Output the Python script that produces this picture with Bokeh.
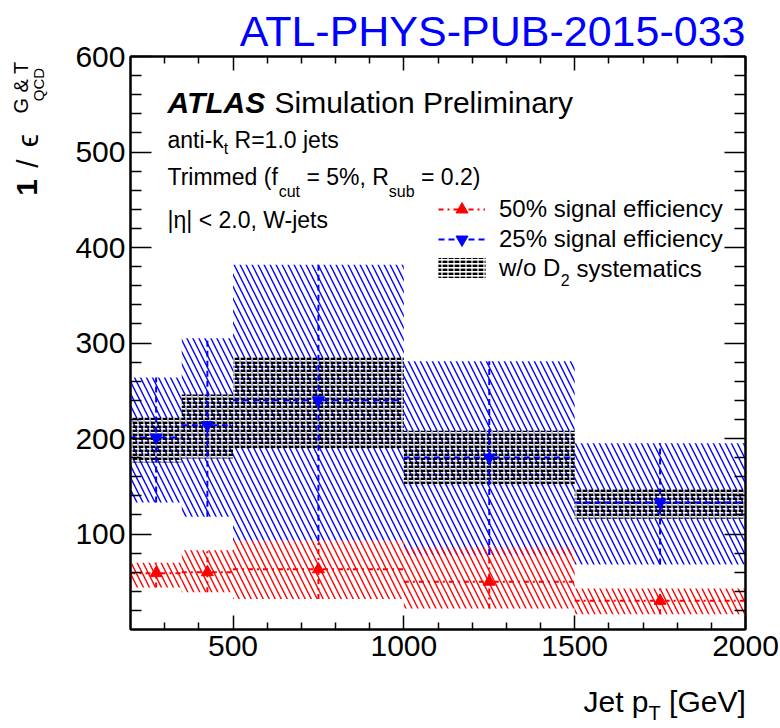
import math
from bokeh.plotting import figure
from bokeh.layouts import column, row
from bokeh.models import (Range1d, FixedTicker, LinearAxis, Label, Legend,
                          LegendItem, CustomJSTickFormatter, Title)
from bokeh.core.properties import value
from bokeh.embed import file_html
from bokeh.resources import INLINE

# ---------------- data ----------------
bin_lo = [200, 350, 500, 1000, 1500]
bin_hi = [350, 500, 1000, 1500, 2000]
bin_mid = [275, 425, 750, 1250, 1750]

eff50_val = [59, 60, 63, 50, 30]
eff50_up = [70, 83, 93, 86, 43]
eff50_dn = [44, 39, 32, 22, 16]

eff25_val = [201, 214, 240, 180, 133]
eff25_up = [264, 305, 382, 281, 195]
eff25_dn = [133, 118, 93, 78, 68]

nod2_up = [222, 246, 285, 208, 147]
nod2_dn = [175, 179, 190, 151, 116]

x_ticks = [500, 1000, 1500, 2000]
x_minor = [300, 400, 600, 700, 800, 900, 1100, 1200, 1300, 1400,
           1600, 1700, 1800, 1900]
y_ticks = [100, 200, 300, 400, 500, 600]
y_minor = [v for v in range(20, 600, 20) if v % 100 != 0]

legend_labels = ["50% signal efficiency", "25% signal efficiency", "w/o D"]
title_text = "ATL-PHYS-PUB-2015-033"

# ---------------- layout (canvas pixels) ----------------
W, H = 780, 728
LEFT_W = 50         # y-title strip
BOT_H = 48          # x-title strip
MAIN_W, MAIN_H = W - LEFT_W, H - BOT_H
FL, FR, FT, FB = 130, 745, 56, 629   # frame in canvas pixels
XMIN, XMAX, YMIN, YMAX = 200, 2000, 0, 600
FONT = "Liberation Sans"
RED = "#ff0000"
BLUE = "#0000ff"
KB = 0.37   # empirical baseline correction (em)
KM = 0.35   # em-box middle above the alphabetic baseline (em)


def px2x(px):
    return XMIN + (px - FL) * (XMAX - XMIN) / (FR - FL)


def px2y(py):
    return YMIN + (FB - py) * (YMAX - YMIN) / (FB - FT)


# Arial / Liberation Sans advance widths (per 1000 em)
AW = {' ': 278, '%': 889, '&': 667, '(': 333, ')': 333, ',': 278, '-': 333,
      '.': 278, '/': 278, '<': 584, '=': 584, '[': 278, ']': 278, '|': 260,
      'η': 556}
for c in '0123456789':
    AW[c] = 556
AW.update(dict(zip('ABCDEFGHIJKLMNOPQRSTUVWXYZ',
                   [667, 667, 722, 722, 667, 611, 778, 722, 278, 500, 667, 556, 833,
                    722, 778, 667, 778, 722, 667, 611, 722, 667, 944, 667, 667, 611])))
AW.update(dict(zip('abcdefghijklmnopqrstuvwxyz',
                   [556, 556, 500, 556, 556, 278, 556, 556, 222, 222, 500, 222, 833,
                    556, 556, 556, 556, 333, 500, 278, 556, 500, 722, 500, 500, 500])))
BW = {'A': 722, 'T': 611, 'L': 611, 'S': 667}


def tw(s, size, bold=False):
    tab = BW if bold else AW
    return sum(tab.get(c, AW.get(c, 556)) for c in s) * size / 1000.0


# ---------------- main figure ----------------
p = figure(width=MAIN_W, height=MAIN_H, x_range=Range1d(XMIN, XMAX),
           y_range=Range1d(YMIN, YMAX), output_backend="svg",
           toolbar_location=None, title=None,
           min_border_left=FL - LEFT_W, min_border_right=W - FR,
           min_border_top=FT, min_border_bottom=MAIN_H - FB)
p.xgrid.visible = False
p.ygrid.visible = False
p.background_fill_color = "white"
p.border_fill_color = "white"
p.outline_line_color = "black"
p.outline_line_width = 2


def style_axis(ax, ticker, maj, mnr, labels=True):
    ax.ticker = ticker
    ax.axis_line_color = "black"
    ax.axis_line_width = 2
    ax.major_tick_line_color = "black"
    ax.minor_tick_line_color = "black"
    ax.major_tick_line_width = 1.5
    ax.minor_tick_line_width = 1.5
    ax.major_tick_in = maj
    ax.major_tick_out = 0
    ax.minor_tick_in = mnr
    ax.minor_tick_out = 0
    ax.major_label_text_font = FONT
    ax.major_label_text_font_size = "30px"
    ax.major_label_text_color = "black"
    if not labels:
        ax.formatter = CustomJSTickFormatter(code="return ''")
        ax.major_label_text_font_size = "1px"
        ax.major_label_standoff = 0


style_axis(p.xaxis[0], FixedTicker(ticks=x_ticks, minor_ticks=x_minor), 14, 7)
p.xaxis[0].major_label_standoff = 6
style_axis(p.yaxis[0], FixedTicker(ticks=y_ticks, minor_ticks=y_minor), 21, 11)
p.yaxis[0].major_label_standoff = 5

top_ax = LinearAxis()
style_axis(top_ax, FixedTicker(ticks=x_ticks, minor_ticks=x_minor), 14, 7, labels=False)
p.add_layout(top_ax, "above")
right_ax = LinearAxis()
style_axis(right_ax, FixedTicker(ticks=y_ticks, minor_ticks=y_minor), 21, 11, labels=False)
p.add_layout(right_ax, "right")

# title (outside the frame, in the "above" panel, farther out than the top axis)
p.add_layout(Title(text=title_text, align="right", text_font=FONT,
                   text_font_size="43px", text_font_style="normal",
                   text_color=BLUE, standoff=3, offset=0), "above")

# ---------------- bands ----------------
p.quad(left=bin_lo, right=bin_hi, bottom=eff25_dn, top=eff25_up,
       fill_color=None, line_color=None, hatch_pattern="\\",
       hatch_color=BLUE, hatch_scale=12, hatch_weight=1.4)
p.quad(left=bin_lo, right=bin_hi, bottom=eff50_dn, top=eff50_up,
       fill_color=None, line_color=None, hatch_pattern="\\",
       hatch_color=RED, hatch_scale=12, hatch_weight=1.4)
blk1 = p.quad(left=bin_lo, right=bin_hi, bottom=nod2_dn, top=nod2_up,
              fill_color=None, line_color=None, hatch_pattern="-",
              hatch_color="black", hatch_scale=4, hatch_weight=2.8)
blk2 = p.quad(left=bin_lo, right=bin_hi, bottom=nod2_dn, top=nod2_up,
              fill_color=None, line_color=None, hatch_pattern="|",
              hatch_color="white", hatch_scale=6, hatch_weight=1.2)

# ---------------- lines & markers ----------------
red_h = p.segment(x0=bin_lo, x1=bin_hi, y0=eff50_val, y1=eff50_val,
                  line_color=RED, line_width=2, line_dash="5 4 2 4")
p.segment(x0=bin_mid, x1=bin_mid, y0=eff50_dn, y1=eff50_up,
          line_color=RED, line_width=2, line_dash="5 4 2 4")
red_m = p.scatter(bin_mid, eff50_val, marker="triangle", size=12,
                  fill_color=RED, line_color=RED)

blue_h = p.segment(x0=bin_lo, x1=bin_hi, y0=eff25_val, y1=eff25_val,
                   line_color=BLUE, line_width=2, line_dash="6 4")
p.segment(x0=bin_mid, x1=bin_mid, y0=eff25_dn, y1=eff25_up,
          line_color=BLUE, line_width=2, line_dash="6 4")
blue_m = p.scatter(bin_mid, eff25_val, marker="inverted_triangle", size=12,
                   fill_color=BLUE, line_color=BLUE)

# ---------------- legends ----------------
legA = Legend(items=[LegendItem(label=legend_labels[0], renderers=[red_h, red_m]),
                     LegendItem(label=legend_labels[1], renderers=[blue_h, blue_m])],
              location=(438 - FL, FB - 254), glyph_width=47, glyph_height=30,
              label_height=30, label_standoff=14, spacing=0, padding=0, margin=0,
              label_text_font=FONT, label_text_font_size="24px",
              label_text_color="black",
              background_fill_alpha=0, border_line_alpha=0)
p.add_layout(legA)
legB = Legend(items=[LegendItem(label=legend_labels[2], renderers=[blk1, blk2])],
              location=(432 - FL, FB - 281.5), glyph_width=59, glyph_height=25,
              label_height=25, label_standoff=8, spacing=0, padding=0, margin=0,
              label_text_font=FONT, label_text_font_size="24px",
              label_text_color="black",
              background_fill_alpha=0, border_line_alpha=0)
p.add_layout(legB)


def put(xpx, ypx, s, size, style="normal", color="black"):
    p.add_layout(Label(x=px2x(xpx), y=px2y(ypx - KB * size), text=s, text_font=FONT,
                       text_font_size=f"{size}px", text_font_style=style,
                       text_color=color, text_align="left",
                       text_baseline="alphabetic"))


def run(x0, base, parts, draw):
    """parts: list of (text, size, dy, style); leading spaces become offsets"""
    x = x0
    for s, size, dy, style in parts:
        bold = "bold" in style
        lead = len(s) - len(s.lstrip(" "))
        x += tw(" " * lead, size)
        s2 = s.lstrip(" ")
        draw(x, base + dy, s2, size, style)
        x += tw(s2, size, bold)


def put_main(x, y, s, size, style):
    put(x, y, s, size, style)


# legend subscript for D_2 systematics
xb = 499 + tw("w/o D", 24)
run(xb, 277, [("2", 16, 8, "normal"), (" systematics", 24, 0, "normal")], put_main)

# ATLAS text block
put(167, 113, "ATLAS", 30, style="bold italic")
put(274, 113, "Simulation Preliminary", 30)
run(167, 148, [("anti-k", 23, 0, "normal"), ("t", 16, 6, "normal"),
               (" R=1.0 jets", 23, 0, "normal")], put_main)
run(167, 185, [("Trimmed (f", 23, 0, "normal"), ("cut", 16, 12, "normal"),
               (" = 5%, R", 23, 0, "normal"), ("sub", 16, 12, "normal"),
               (" = 0.2)", 23, 0, "normal")], put_main)
put(167, 228, "|η| < 2.0, W-jets", 23)


# ---------------- text strips outside the frame ----------------
def strip(w, h, btop=0, bbot=0):
    # data y == (h - canvas y) inside the strip's frame
    s = figure(width=w, height=h, x_range=Range1d(0, w),
               y_range=Range1d(bbot, h - btop),
               output_backend="svg", toolbar_location=None, title=None,
               x_axis_location=None, y_axis_location=None,
               min_border=0, min_border_left=0, min_border_right=0,
               min_border_top=btop, min_border_bottom=bbot)
    for g in s.grid:
        g.visible = False
    s.outline_line_color = None
    s.background_fill_color = "white"
    s.border_fill_color = "white"
    return s


def stext(s, x0, y0, h, xpx, ypx, txt, size, style="normal", color="black"):
    ypx = ypx - KB * size
    s.text(x=[xpx - x0], y=[h - (ypx - y0)], text=[txt],
           text_font=value(FONT), text_font_size=value(f"{size}px"),
           text_font_style=value(style), text_color=color,
           text_align="left", text_baseline="alphabetic")


def vtext(s, h, base_x, center_y, txt, size, style="normal"):
    """vertical text (reading upward), anchored at its centre"""
    cx = base_x - KM * size
    s.text(x=[cx], y=[h - center_y], text=[txt], angle=math.pi / 2,
           text_font=value(FONT), text_font_size=value(f"{size}px"),
           text_font_style=value(style), text_color="black",
           text_align="center", text_baseline="middle")


# same top/bottom borders as the main figure, so the row keeps them aligned
left = strip(LEFT_W, MAIN_H, btop=FT, bbot=MAIN_H - FB)
vtext(left, MAIN_H, 37, 187, "1", 30, style="bold")
vtext(left, MAIN_H, 37, 163, "/", 30)
vtext(left, MAIN_H, 37, 140, "ϵ", 30)
vtext(left, MAIN_H, 27, 87, "G & T", 20)
vtext(left, MAIN_H, 43, 84, "QCD", 15)

bot = strip(W, BOT_H)
BY0 = MAIN_H


def put_bot(x, y, s, size, style):
    stext(bot, 0, BY0, BOT_H, x, y, s, size, style)


run(583, 712, [("Jet p", 30, 0, "normal"), ("T", 20, 8, "normal"),
               (" [GeV]", 30, 0, "normal")], put_bot)

layout = column(row(left, p, spacing=0), bot, spacing=0)
open("out.html", "w").write(file_html(layout, INLINE))
